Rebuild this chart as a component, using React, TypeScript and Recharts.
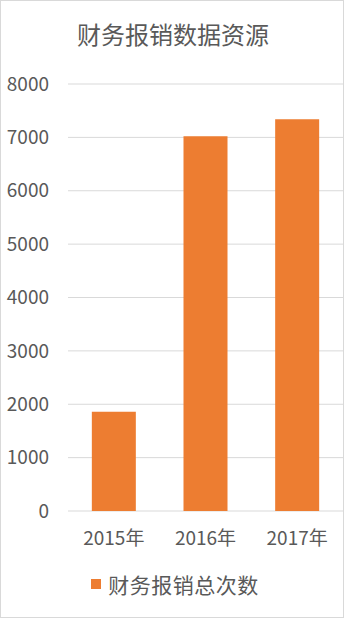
import { BarChart, Bar, XAxis, YAxis, CartesianGrid, Legend } from "recharts";

const years = ["2015年", "2016年", "2017年"];
const totals = [1860, 7020, 7340];
const yTicks = [0, 1000, 2000, 3000, 4000, 5000, 6000, 7000, 8000];

const seriesName = "财务报销总次数";
const title = "财务报销数据资源";

const font = '"Noto Sans CJK SC", "Noto Sans", sans-serif';
const orange = "#ed7d31";

function LegendBox() {
   return (
      <div style={{ display: "flex", justifyContent: "center", alignItems: "center", gap: 7, paddingLeft: 6 }}>
         <span style={{ width: 10, height: 10, background: orange, display: "inline-block" }} />
         <span style={{ fontSize: 21, color: "#595959", fontFamily: font, lineHeight: "26px", letterSpacing: 0.5 }}>{seriesName}</span>
      </div>
   );
}

export default function App() {
   const chartData = years.map((y, i) => ({ name: y, total: totals[i] }));

   return (
      <div
         style={{
            position: "absolute",
            left: 0,
            top: 0,
            width: 344,
            height: 618,
            boxSizing: "border-box",
            border: "1px solid #d9d9d9",
            background: "#fff",
            fontFamily: font,
         }}
      >
         <div
            style={{
               position: "absolute",
               left: 0,
               top: 16,
               width: 344,
               textAlign: "center",
               fontSize: 24,
               lineHeight: "34px",
               color: "#595959",
            }}
         >
            {title}
         </div>
         <BarChart
            width={342}
            height={616}
            data={chartData}
            margin={{ top: 83, right: 0, bottom: 0, left: 0 }}
            barCategoryGap="26%"
         >
            <CartesianGrid vertical={false} stroke="#d9d9d9" />
            <XAxis
               dataKey="name"
               axisLine={false}
               tickLine={false}
               tickSize={0}
               tickMargin={21}
               height={60}
               tick={{ fill: "#595959", fontSize: 19, fontFamily: font }}
            />
            <YAxis
               width={67}
               domain={[0, 8000]}
               ticks={yTicks}
               axisLine={false}
               tickLine={false}
               tickSize={0}
               tickMargin={19}
               tick={{ fill: "#595959", fontSize: 19, fontFamily: font }}
            />
            <Legend verticalAlign="bottom" height={46} content={<LegendBox />} />
            <Bar dataKey="total" name={seriesName} fill={orange} isAnimationActive={false} />
         </BarChart>
      </div>
   );
}
